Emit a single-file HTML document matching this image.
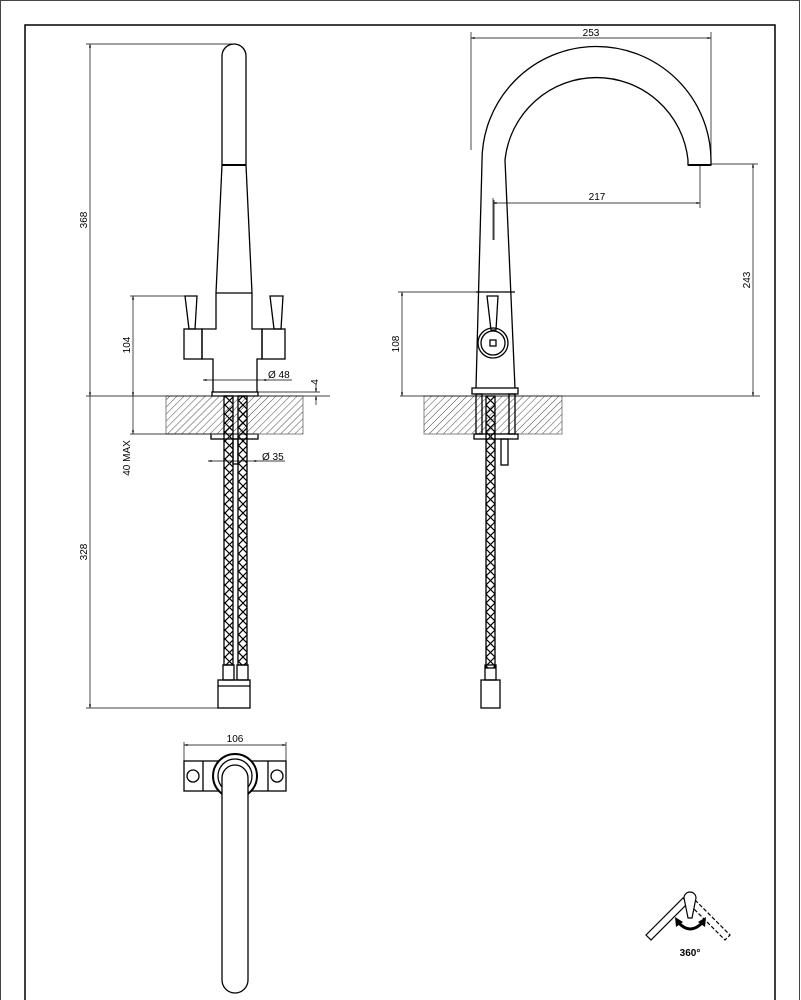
<!DOCTYPE html>
<html><head><meta charset="utf-8"><style>
html,body{margin:0;padding:0;background:#fff}
svg{display:block}
text{font-family:"Liberation Sans",Arial,sans-serif;font-size:10px;fill:#000}
</style></head><body>
<svg width="801" height="1000" viewBox="0 0 801 1000" xmlns="http://www.w3.org/2000/svg">
<defs>
<pattern id="h" width="5" height="5" patternUnits="userSpaceOnUse" patternTransform="rotate(45)">
<line x1="0" y1="0" x2="0" y2="5" stroke="#333" stroke-width="0.9"/></pattern>
<pattern id="br" width="9" height="9" patternUnits="userSpaceOnUse">
<path d="M0 0 L9 9 M9 0 L0 9" stroke="#000" stroke-width="1.2"/></pattern>
<marker id="a" viewBox="0 0 10 10" refX="10" refY="5" markerWidth="7" markerHeight="5" orient="auto-start-reverse"><path d="M0 2 L10 5 L0 8z" fill="#000"/></marker>
</defs>
<rect x="0.5" y="0.5" width="799" height="1010" fill="none" stroke="#444" stroke-width="1"/>
<rect x="25" y="25" width="750" height="990" fill="none" stroke="#000" stroke-width="1.5"/>

<g fill="none" stroke="#000" stroke-width="1.3">
<!-- LEFT VIEW -->
<path d="M222 165 L222 56 A12 12 0 0 1 246 56 L246 165"/>
<line x1="222" y1="165" x2="246" y2="165" stroke-width="2"/>
<path d="M222 165 L216 293 M246 165 L252 293"/>
<line x1="216" y1="293" x2="252" y2="293"/>
<path d="M216 293 L216 329 L202 329 L202 359 L213 359 L213 392 M252 293 L252 329 L262 329 L262 359 L257 359 L257 392"/>
<rect x="184" y="329" width="18" height="30"/>
<rect x="262" y="329" width="23" height="30"/>
<path d="M185 296 L197 296 L195 329 L189 329 Z"/>
<path d="M270 296 L283 296 L281 329 L274 329 Z"/>
<rect x="212" y="392" width="46" height="4"/>
<rect x="211" y="434" width="47" height="5"/>
<rect x="166" y="396" width="137" height="38" fill="url(#h)" stroke="#666" stroke-width="0.8"/>
<rect x="224" y="396" width="9" height="269" fill="url(#br)"/>
<rect x="238" y="396" width="9" height="269" fill="url(#br)"/>
<rect x="233" y="439" width="5" height="25"/>
<rect x="223" y="665" width="11" height="15"/>
<rect x="237" y="665" width="11" height="15"/>
<rect x="218" y="680" width="32" height="28"/>
<line x1="218" y1="686" x2="250" y2="686"/>

<!-- RIGHT VIEW -->
<path d="M476 388 L482 162 A114 114 0 0 1 711 160 L711 165 L688 165 L688 160 A92 92 0 0 0 505 160 L515 388"/>
<line x1="688" y1="165" x2="711" y2="165" stroke-width="2"/>
<line x1="476" y1="292" x2="515" y2="292"/>
<line x1="494" y1="200" x2="494" y2="240" stroke-width="0.8"/>
<path d="M487 296 L498 296 L496 330 L491 330 Z"/>
<circle cx="493" cy="343" r="15"/>
<circle cx="493" cy="343" r="12"/>
<rect x="490" y="340" width="6" height="6"/>
<rect x="472" y="388" width="46" height="6"/>
<rect x="424" y="396" width="138" height="38" fill="url(#h)" stroke="#666" stroke-width="0.8"/>
<rect x="476" y="394" width="6" height="40"/>
<rect x="509" y="394" width="6" height="40"/>
<rect x="474" y="434" width="44" height="5"/>
<rect x="486" y="396" width="9" height="272" fill="url(#br)"/>
<rect x="501" y="439" width="7" height="26"/>
<rect x="485" y="665" width="11" height="15"/>
<rect x="481" y="680" width="19" height="28"/>

<!-- TOP VIEW -->
<rect x="184" y="761" width="102" height="30"/>
<line x1="203" y1="761" x2="203" y2="791"/>
<line x1="268" y1="761" x2="268" y2="791"/>
<circle cx="193" cy="776" r="6"/>
<circle cx="277" cy="776" r="6"/>
<circle cx="235" cy="776" r="22" fill="#fff" stroke-width="2"/>
<circle cx="235" cy="776" r="17"/>
<path d="M222 980 L222 778 A13 13 0 0 1 248 778 L248 980 A13 13 0 0 1 222 980 Z" fill="#fff"/>
</g>

<!-- DIMENSIONS -->
<g stroke="#000" stroke-width="0.7" fill="none">
<line x1="86" y1="44" x2="234" y2="44"/>
<line x1="90" y1="44" x2="90" y2="396" marker-start="url(#a)" marker-end="url(#a)"/>
<line x1="86" y1="396" x2="330" y2="396"/>
<line x1="90" y1="396" x2="90" y2="708" marker-end="url(#a)"/>
<line x1="86" y1="708" x2="218" y2="708"/>
<line x1="130" y1="296" x2="185" y2="296"/>
<line x1="133" y1="296" x2="133" y2="396" marker-start="url(#a)" marker-end="url(#a)"/>
<line x1="133" y1="396" x2="133" y2="434" marker-end="url(#a)"/>
<line x1="130" y1="434" x2="211" y2="434"/>
<line x1="203" y1="380" x2="268" y2="380" marker-start="url(#a)" marker-end="url(#a)"/>
<line x1="268" y1="380" x2="292" y2="380"/>
<line x1="258" y1="392" x2="320" y2="392"/>
<line x1="316" y1="384" x2="316" y2="392" marker-end="url(#a)"/>
<line x1="316" y1="405" x2="316" y2="396" marker-end="url(#a)"/>
<line x1="208" y1="461" x2="258" y2="461" marker-start="url(#a)" marker-end="url(#a)"/>
<line x1="258" y1="461" x2="285" y2="461"/>
<line x1="184" y1="742" x2="184" y2="761"/>
<line x1="286" y1="742" x2="286" y2="761"/>
<line x1="184" y1="745" x2="286" y2="745" marker-start="url(#a)" marker-end="url(#a)"/>
<line x1="471" y1="32" x2="471" y2="150"/>
<line x1="711" y1="32" x2="711" y2="160"/>
<line x1="471" y1="38" x2="711" y2="38" marker-start="url(#a)" marker-end="url(#a)"/>
<line x1="493" y1="198" x2="493" y2="240"/>
<line x1="700" y1="165" x2="700" y2="208"/>
<line x1="493" y1="203" x2="700" y2="203" marker-start="url(#a)" marker-end="url(#a)"/>
<line x1="711" y1="164" x2="758" y2="164"/>
<line x1="753" y1="164" x2="753" y2="396" marker-start="url(#a)" marker-end="url(#a)"/>
<line x1="400" y1="396" x2="760" y2="396"/>
<line x1="398" y1="292" x2="476" y2="292"/>
<line x1="402" y1="292" x2="402" y2="396" marker-start="url(#a)" marker-end="url(#a)"/>
</g>
<g>
<text transform="translate(87,220) rotate(-90)" text-anchor="middle">368</text>
<text transform="translate(130,345) rotate(-90)" text-anchor="middle">104</text>
<text transform="translate(130,458) rotate(-90)" text-anchor="middle">40 MAX</text>
<text transform="translate(87,552) rotate(-90)" text-anchor="middle">328</text>
<text transform="translate(318,382) rotate(-90)" text-anchor="middle">4</text>
<text transform="translate(399,344) rotate(-90)" text-anchor="middle">108</text>
<text transform="translate(750,280) rotate(-90)" text-anchor="middle">243</text>
<text x="268" y="378">Ø 48</text>
<text x="262" y="460">Ø 35</text>
<text x="235" y="742" text-anchor="middle">106</text>
<text x="591" y="36" text-anchor="middle">253</text>
<text x="597" y="200" text-anchor="middle">217</text>
</g>

<!-- 360 icon -->
<g fill="none" stroke="#000" stroke-width="1.2">
<path d="M646 935 L683 898 L688 903 L651 940 Z"/>
<path d="M695 900 L730 935 L725 940 L692 907" stroke-dasharray="4 2"/>
<path d="M684 898 A6 6 0 0 1 696 898 L692 918 L688 918 Z" fill="#fff"/>
<path d="M678 922 Q690 936 703 922" stroke-width="3"/>
</g>
<path d="M675 917 L683 922 L676 927 Z M706 917 L698 922 L705 927 Z"/>
<text x="690" y="956" text-anchor="middle" font-weight="bold" font-size="11">360°</text>
</svg>
</body></html>
